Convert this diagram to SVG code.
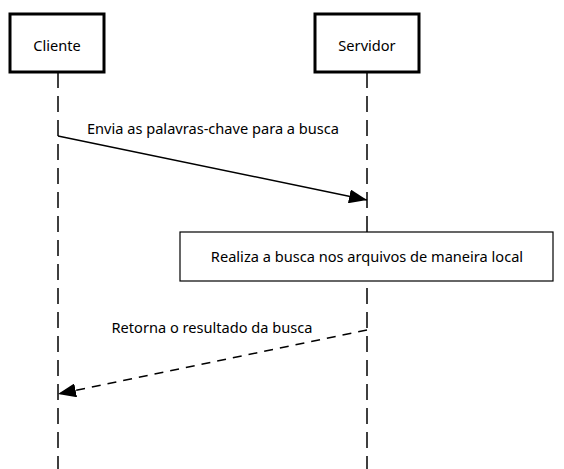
<svg xmlns="http://www.w3.org/2000/svg" width="564" height="469" viewBox="0 0 564 469">
<style>
text{font-family:"Noto Sans","Open Sans","DejaVu Sans",sans-serif;font-size:14.6px;fill:#000;text-anchor:middle}
.actor{fill:#fff;stroke:#000;stroke-width:3}
.life{stroke:#000;stroke-width:1.5;stroke-dasharray:16 8;fill:none}
.msg{stroke:#000;stroke-width:1.5;fill:none}
.dash{stroke-dasharray:9 7}
.note{fill:#fff;stroke:#000;stroke-width:1.2}
</style>
<defs>
<marker id="ah" viewBox="0 0 18 14" refX="18" refY="7" markerWidth="18" markerHeight="14" markerUnits="userSpaceOnUse" orient="auto">
<path d="M0,0 L18,7 L0,14 Z" fill="#000"/>
</marker>
</defs>
<g id="lifelines">
<line class="life" x1="58" y1="72" x2="58" y2="469"/>
<line class="life" x1="367" y1="72" x2="367" y2="469"/>
</g>
<g id="cliente">
<rect class="actor" x="10" y="14" width="94" height="58"/>
<text x="57" y="51">Cliente</text>
</g>
<g id="servidor">
<rect class="actor" x="315" y="14" width="104" height="58"/>
<text x="367" y="51">Servidor</text>
</g>
<g id="connectors">
<line class="msg" x1="58" y1="136" x2="367" y2="200" marker-end="url(#ah)"/>
<text x="213" y="134">Envia as palavras-chave para a busca</text>
<line class="msg dash" x1="367" y1="330" x2="58" y2="394" marker-end="url(#ah)"/>
<text x="212" y="333">Retorna o resultado da busca</text>
</g>
<g id="nota">
<rect class="note" x="180" y="232" width="373" height="49"/>
<text x="367" y="262">Realiza a busca nos arquivos de maneira local</text>
</g>
</svg>
